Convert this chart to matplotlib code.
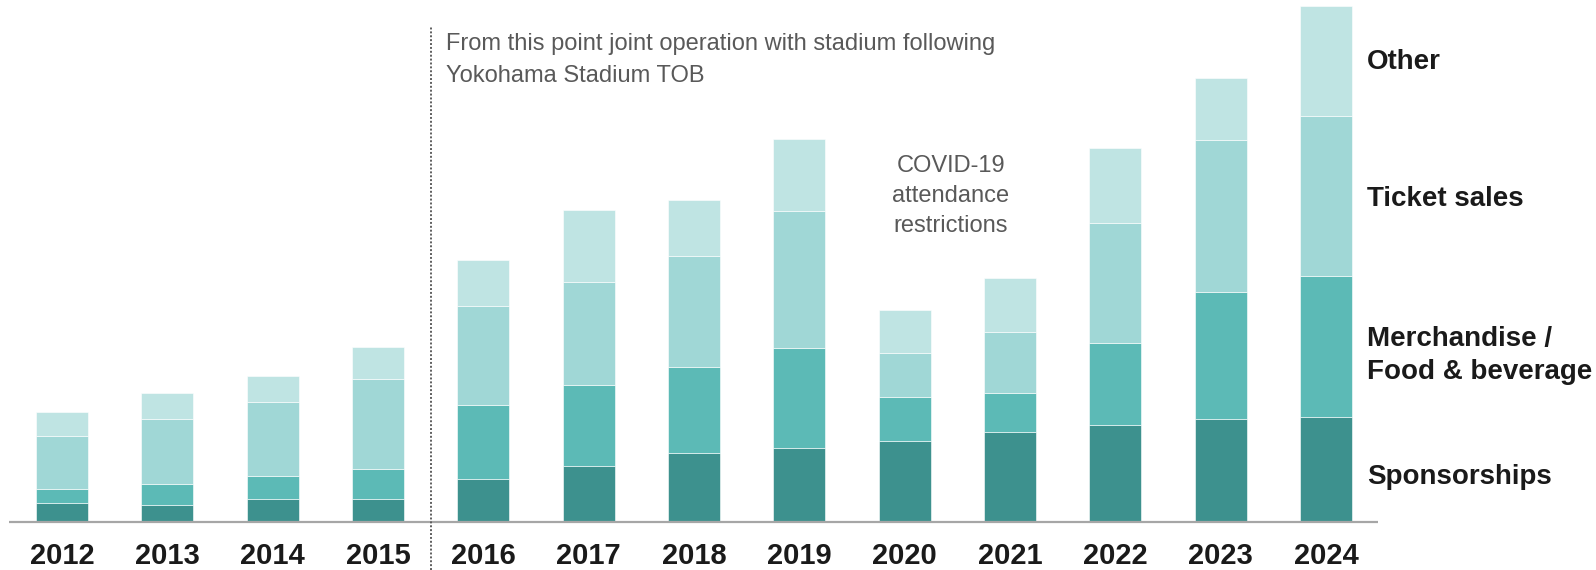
import matplotlib
matplotlib.use("Agg")
import matplotlib.pyplot as plt
import numpy as np

plt.rcParams['font.family'] = ['Liberation Sans', 'DejaVu Sans']

years = ["2012", "2013", "2014", "2015", "2016", "2017", "2018",
         "2019", "2020", "2021", "2022", "2023", "2024"]

# revenue breakdown per season (stacked bottom to top)
sponsorships = [18.7, 17.3, 22.7, 22.7, 43.0, 55.7, 68.7, 73.7, 81.3, 90.0, 96.7, 103.0, 104.7]
merchandise  = [14.0, 20.7, 23.0, 30.6, 74.3, 81.0, 86.0, 100.0, 43.7, 39.0, 82.0, 127.3, 141.0]
tickets      = [53.6, 65.0, 74.3, 89.7, 98.7, 103.6, 111.3, 137.3, 43.7, 61.3, 120.6, 151.4, 160.0]
other        = [23.4, 26.0, 25.7, 32.0, 46.0, 71.7, 56.3, 71.7, 43.3, 53.7, 74.4, 62.6, 110.1]

series = [sponsorships, merchandise, tickets, other]
series_names = ["Sponsorships", "Merchandise /\nFood & beverage", "Ticket sales", "Other"]
colors = ["#3d918e", "#5cbab6", "#a0d7d6", "#bfe4e3"]

note_top = "From this point joint operation with stadium following\nYokohama Stadium TOB"
note_covid = "COVID-19\nattendance\nrestrictions"

fig = plt.figure(figsize=(15.96, 5.7), dpi=100)
ax = fig.add_axes([0, 0, 1, 1])

step = 105.33  # px between bar centres
x = np.arange(len(years))
ax.set_xlim(-62 / step, (1596 - 62) / step)
ax.set_ylim(-48, 522)

bottom = np.zeros(len(years))
for vals, col in zip(series, colors):
    ax.bar(x, vals, width=52 / step, bottom=bottom, color=col,
           edgecolor="white", linewidth=0.4)
    bottom += np.array(vals)

# baseline
ax.hlines(0, (9 - 62) / step, (1378 - 62) / step, color="#a6a6a6", lw=1.6)

for xi, yr in zip(x, years):
    ax.text(xi, -41.5, yr, ha="center", va="baseline", fontsize=21,
            fontweight="heavy", color="#1a1a1a")

# series labels next to the last bar, a little below each segment's middle
label_shift = [-7, -9, -3, -1]
last = len(years) - 1
cum = 0
for vals, name, dy in zip(series, series_names, label_shift):
    mid = cum + vals[last] / 2
    cum += vals[last]
    ax.text((1367 - 62) / step, mid + dy, name, ha="left", va="center",
            fontsize=20, fontweight="bold", color="#1a1a1a", linespacing=1.36)

# divider between 2015 and 2016
ax.vlines(3.5, -48, 522 - 27, color="#5e5e5e", lw=1.4, linestyles=(0, (1, 1)))

ax.text((446 - 62) / step, 462, note_top, ha="left", va="center",
        fontsize=17, color="#595959", linespacing=1.58)
ax.text((951 - 62) / step, 326, note_covid, ha="center", va="center",
        fontsize=17, color="#595959", linespacing=1.47)

ax.axis("off")
fig.savefig("out.png", dpi=100, facecolor="white")
